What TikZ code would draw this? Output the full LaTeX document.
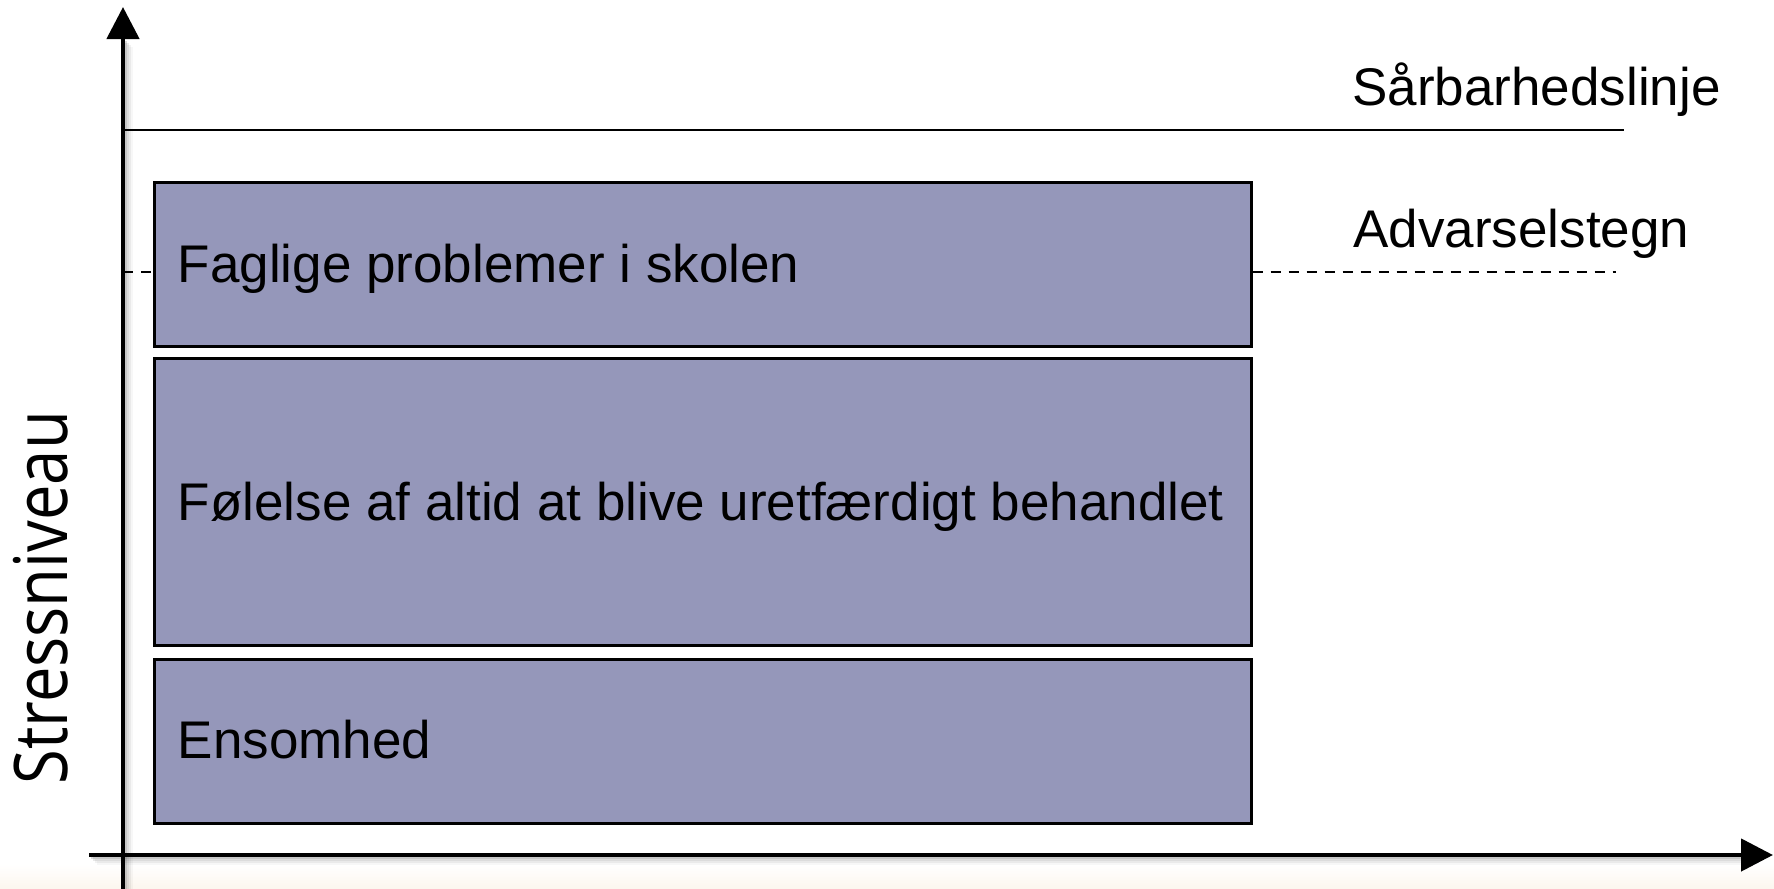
\documentclass[tikz,border=0pt]{standalone}
\usepackage{fontspec}
\setmainfont{Liberation Sans}
\newfontfamily\labelfont{Open Sans}
\usetikzlibrary{arrows.meta}
\definecolor{boxfill}{RGB}{149,151,186}
\definecolor{beige}{RGB}{252,246,238}
\begin{document}
\begin{tikzpicture}[x=0.5pt,y=-0.5pt,
  axisline/.style={line width=2.3pt, draw=black, -{Triangle[length=16pt,width=16pt]}},
  shadowline/.style={line width=2.3pt, draw=black},
  levelbox/.style={draw=black, line width=1.3pt, fill=boxfill, rectangle, inner sep=0pt, anchor=north west, minimum width=548.5pt},
  txt/.style={inner sep=0pt, font=\fontsize{26.5}{30}\selectfont, text=black},
  solidline/.style={draw=black, line width=1.3pt},
  dashline/.style={draw=black, line width=1.2pt, dash pattern=on 5pt off 4pt}]
\useasboundingbox (0,0) rectangle (1774,889);
\fill[white] (0,0) rectangle (1774,889);
\shade[top color=white, bottom color=beige] (0,864) rectangle (1774,889);
% soft shadows of the axes
\foreach \o/\op in {2/0.14,4/0.09,6/0.05,8/0.03} {
  \draw[shadowline, opacity=\op] ({123+\o},889) -- ({123+\o},{39+\o});
  \draw[shadowline, opacity=\op] ({89+\o},{855+\o}) -- ({1742+\o},{855+\o});
}
% coordinates
\coordinate (yo) at (123,889);
\coordinate (yt) at (123,7);
\coordinate (xo) at (89,855);
\coordinate (xt) at (1773,855);
\coordinate (s1) at (123,130);
\coordinate (s2) at (1624,130);
\coordinate (d0) at (123,272);
\coordinate (d1) at (1616,272);
% boxes
\node[levelbox, minimum height=82pt] (b1) at (153,181) {};
\node[levelbox, minimum height=143.5pt] (b2) at (153,357) {};
\node[levelbox, minimum height=82pt] (b3) at (153,658) {};
% box texts
\node[txt, anchor=base west] (t1) at (177.5,282) {Faglige problemer i skolen};
\node[txt, anchor=base west] (t2) at (177.5,520) {Følelse af altid at blive uretfærdigt behandlet};
\node[txt, anchor=base west] (t3) at (177.5,758) {Ensomhed};
% lines
\draw[solidline] (s1) -- (s2);
\draw[dashline] (d0) -- (d0 -| b1.west);
\draw[dashline] (d0 -| b1.east) -- (d1);
\node[txt, anchor=base west] (sl) at (1352,105) {Sårbarhedslinje};
\node[txt, anchor=base west] (al) at (1353,247) {Advarselstegn};
% axes
\draw[axisline] (yo) -- (yt);
\draw[axisline] (xo) -- (xt);
\node[rotate=90, anchor=base west, inner sep=0pt, font=\labelfont\fontsize{37}{40}\selectfont] (yl) at (68,785) {\scalebox{0.855}[1]{Stressniveau}};
\end{tikzpicture}
\end{document}
